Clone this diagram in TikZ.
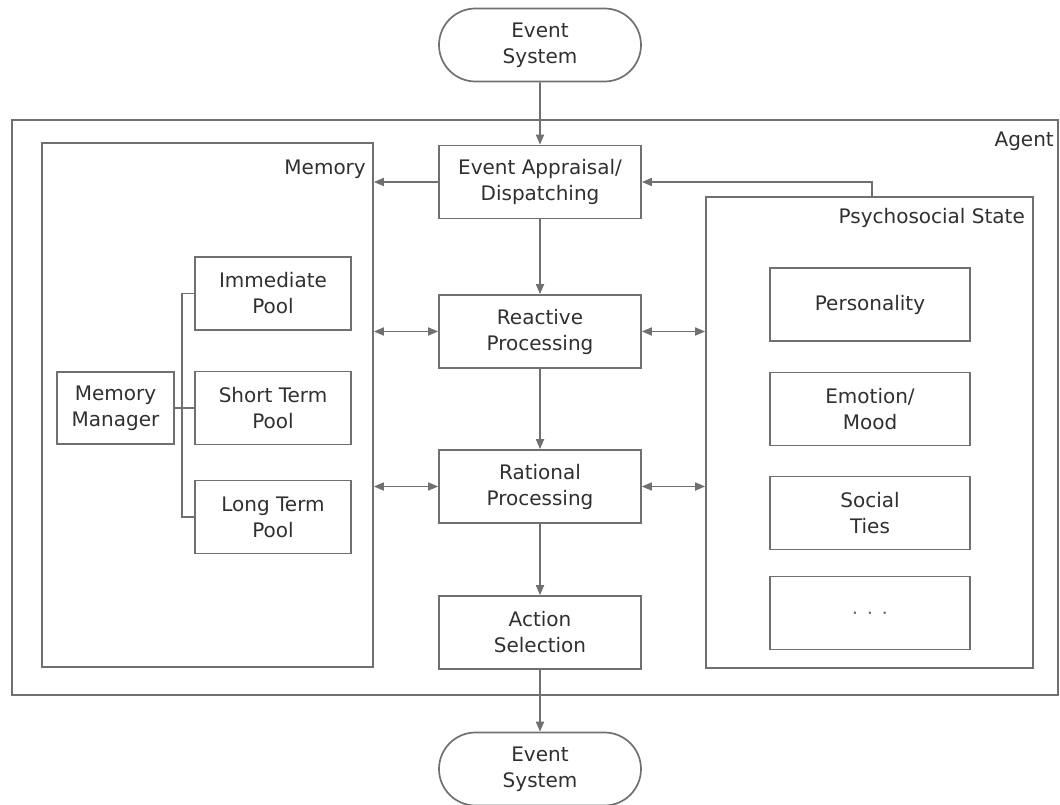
\documentclass[tikz,border=0pt]{standalone}
\usepackage{fontspec}
\setmainfont{DejaVu Sans}
\usetikzlibrary{shapes.misc,arrows.meta}
\definecolor{linegray}{HTML}{707070}
\definecolor{textgray}{HTML}{303030}

\begin{document}
\begin{tikzpicture}[x=1pt,y=-1pt,
  font=\fontsize{20}{26}\selectfont,
  line/.style={draw=linegray,line width=1.7pt},
  block/.style={line,rectangle,align=center,text=textgray,inner sep=0pt,
    minimum width=202pt,minimum height=73pt},
  pill/.style={block,rounded rectangle},
  frame/.style={line,rectangle,inner sep=0pt},
  title/.style={anchor=base east,inner sep=0pt,text=textgray},
  arr/.style={line,-{Triangle[length=10pt,width=8pt]}},
  darr/.style={line,{Triangle[length=10pt,width=8pt]}-{Triangle[length=10pt,width=8pt]}}]

\useasboundingbox (0,0) rectangle (1060,805);

\node [frame,minimum width=1046pt,minimum height=575pt] (agent) at (535,407.5) {};
\node [title] (agentlabel) at (1054,147) {Agent};
\node [frame,minimum width=331pt,minimum height=524pt] (memory) at (207.5,405) {};
\node [title] (memorylabel) at (366,175) {Memory};
\node [frame,minimum width=327pt,minimum height=471pt] (psycho) at (869.5,432.5) {};
\node [title] (psycholabel) at (1025,223) {Psychosocial State};

\node [pill] (evtop) at (540,45) {Event\\System};
\node [block] (appraisal) at (540,182) {Event Appraisal/\\Dispatching};
\node [block] (reactive) at (540,331.5) {Reactive\\Processing};
\node [block] (rational) at (540,486.5) {Rational\\Processing};
\node [block] (action) at (540,632.5) {Action\\Selection};
\node [pill] (evbot) at (540,769) {Event\\System};

\node [block,minimum width=117pt,minimum height=72pt] (manager) at (115.5,408) {Memory\\Manager};
\node [block,minimum width=156pt] (immediate) at (273,293.5) {Immediate\\Pool};
\node [block,minimum width=156pt] (shortterm) at (273,408) {Short Term\\Pool};
\node [block,minimum width=156pt] (longterm) at (273,517) {Long Term\\Pool};

\node [block,minimum width=200pt] (personality) at (870,304.5) {Personality};
\node [block,minimum width=200pt] (emotion) at (870,409) {Emotion/\\Mood};
\node [block,minimum width=200pt] (social) at (870,513) {Social\\Ties};
\node [block,minimum width=200pt,text=linegray] (more) at (870,613) {. . .};

\draw [arr] (evtop) -- (appraisal);
\draw [arr] (appraisal) -- (reactive);
\draw [arr] (reactive) -- (rational);
\draw [arr] (rational) -- (action);
\draw [arr] (action) -- (evbot);

\draw [arr] (appraisal.west) -- (appraisal.west -| memory.east);
\draw [arr] ([xshift=2.5pt]psycho.north) |- (appraisal.east);
\draw [darr] (reactive.west) -- (reactive.west -| memory.east);
\draw [darr] (rational.west) -- (rational.west -| memory.east);
\draw [darr] (reactive.east) -- (reactive.east -| psycho.west);
\draw [darr] (rational.east) -- (rational.east -| psycho.west);

\draw [line] (manager.east) -- (shortterm.west);
\draw [line] (immediate.west) -- ++(-12,0) |- (longterm.west);

\end{tikzpicture}
\end{document}
